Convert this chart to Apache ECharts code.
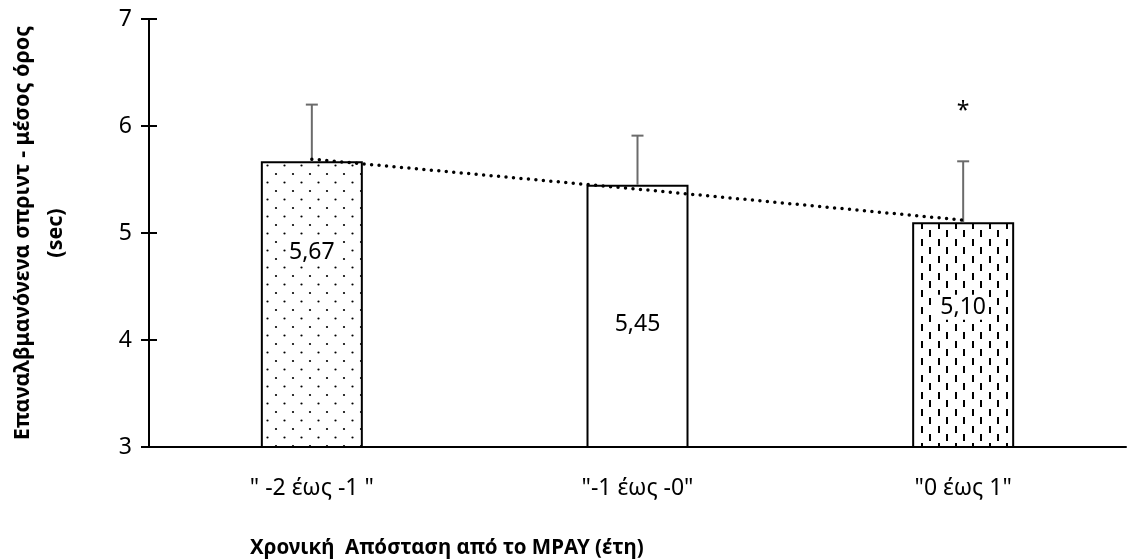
<!DOCTYPE html>
<html>
<head>
<meta charset="utf-8">
<script src="https://cdn.jsdelivr.net/npm/echarts@6/dist/echarts.min.js"></script>
<style>
  html, body { margin: 0; padding: 0; background: #fff; }
  #chart { width: 1132px; height: 560px; }
</style>
</head>
<body>
<div id="chart"></div>
<script>
// data
var categories = ['" -2 έως -1 "', '"-1 έως -0"', '"0 έως 1"'];
var means = [5.67, 5.45, 5.10];
var sdUpper = [0.53, 0.46, 0.57];
var trendValues = [5.69, 5.41, 5.12];
var marks = ['', '', '*'];
var yTicks = [3, 4, 5, 6, 7];

var FONT = 'Noto Sans';

// fill patterns
function dotTile() {
  var c = document.createElement('canvas');
  c.width = 17; c.height = 17;
  var ctx = c.getContext('2d');
  ctx.fillStyle = '#fff';
  ctx.fillRect(0, 0, 17, 17);
  ctx.fillStyle = '#000';
  ctx.beginPath(); ctx.arc(4, 4, 1.1, 0, Math.PI * 2); ctx.fill();
  ctx.beginPath(); ctx.arc(12.5, 12.5, 1.1, 0, Math.PI * 2); ctx.fill();
  return c;
}
function dashTile() {
  var c = document.createElement('canvas');
  c.width = 17; c.height = 17;
  var ctx = c.getContext('2d');
  ctx.fillStyle = '#fff';
  ctx.fillRect(0, 0, 17, 17);
  ctx.fillStyle = '#000';
  ctx.fillRect(3, 1, 2, 7);
  ctx.fillRect(11, 9, 2, 7);
  return c;
}

var fills = [
  { image: dotTile(), repeat: 'repeat' },
  '#ffffff',
  { image: dashTile(), repeat: 'repeat' }
];
// label centre, px below the bar top (labels were moved by hand in the original)
var labelY = [91, 140, 85];

var barData = means.map(function (v, i) {
  return {
    value: v,
    itemStyle: { color: fills[i] },
    label: { position: ['50%', labelY[i]] }
  };
});

var myChart = echarts.init(document.getElementById('chart'));
var option = {
  animation: false,
  title: {
    text: 'Χρονική  Απόσταση από το ΜΡΑΥ (έτη)',
    left: 250,
    top: 538,
    padding: 0,
    textStyle: { fontFamily: FONT, fontSize: 20.5, fontWeight: 'bold', color: '#000' }
  },
  grid: { left: 149, right: 6, top: 19, bottom: 113, outerBoundsMode: 'none' },
  xAxis: {
    type: 'category',
    data: categories,
    axisLine: { lineStyle: { color: '#000', width: 2 } },
    axisTick: { show: false },
    axisLabel: { margin: 30, fontFamily: FONT, fontSize: 23, color: '#000' }
  },
  yAxis: [
    {
      type: 'value',
      min: yTicks[0],
      max: yTicks[yTicks.length - 1],
      interval: 1,
      name: 'Επαναλβμανόνενα σπριντ - μέσος όρος\n(sec)',
      nameLocation: 'middle',
      nameGap: 77,
      nameTextStyle: { fontFamily: FONT, fontSize: 21.5, fontWeight: 'bold', color: '#000', lineHeight: 33 },
      axisLine: { show: true, lineStyle: { color: '#000', width: 2 } },
      axisTick: { show: true, length: 8, lineStyle: { color: '#000', width: 2 } },
      axisLabel: { margin: 17, fontFamily: FONT, fontSize: 23, color: '#000' },
      splitLine: { show: false }
    },
    {
      type: 'value',
      position: 'left',
      min: yTicks[0],
      max: yTicks[yTicks.length - 1],
      interval: 1,
      axisLine: { show: false },
      axisTick: { show: true, inside: true, length: 8, lineStyle: { color: '#000', width: 2 } },
      axisLabel: { show: false },
      splitLine: { show: false }
    }
  ],
  series: [
    {
      type: 'bar',
      data: barData,
      barWidth: 102,
      itemStyle: { borderColor: '#000', borderWidth: 2 },
      label: {
        show: true,
        align: 'center',
        verticalAlign: 'middle',
        fontFamily: FONT,
        fontSize: 23,
        color: '#000',
        backgroundColor: '#fff',
        padding: [1, 3],
        formatter: function (p) { return p.value.toFixed(2).replace('.', ','); }
      },
      z: 2
    },
    {
      type: 'custom',
      data: means.map(function (m, i) { return [i, m, sdUpper[i]]; }),
      renderItem: function (params, api) {
        var i = api.value(0);
        var base = api.coord([i, api.value(1)]);
        var top = api.coord([i, api.value(1) + api.value(2)]);
        var st = { stroke: '#6b6b6b', lineWidth: 2 };
        var children = [
          { type: 'line', shape: { x1: base[0], y1: base[1], x2: top[0], y2: top[1] }, style: st },
          { type: 'line', shape: { x1: top[0] - 6, y1: top[1], x2: top[0] + 6, y2: top[1] }, style: st }
        ];
        if (marks[params.dataIndex]) {
          children.push({
            type: 'text',
            style: {
              text: marks[params.dataIndex],
              x: top[0], y: top[1] - 50,
              align: 'center', verticalAlign: 'middle',
              fontFamily: FONT, fontSize: 23, fill: '#000'
            }
          });
        }
        return { type: 'group', children: children };
      },
      z: 3
    },
    {
      type: 'line',
      data: trendValues,
      symbol: 'none',
      lineStyle: { color: '#000', width: 3.5, type: [0, 7.5], cap: 'round' },
      z: 4
    }
  ]
};
window.onresize = myChart.resize;
myChart.setOption(option);
</script>
</body>
</html>
